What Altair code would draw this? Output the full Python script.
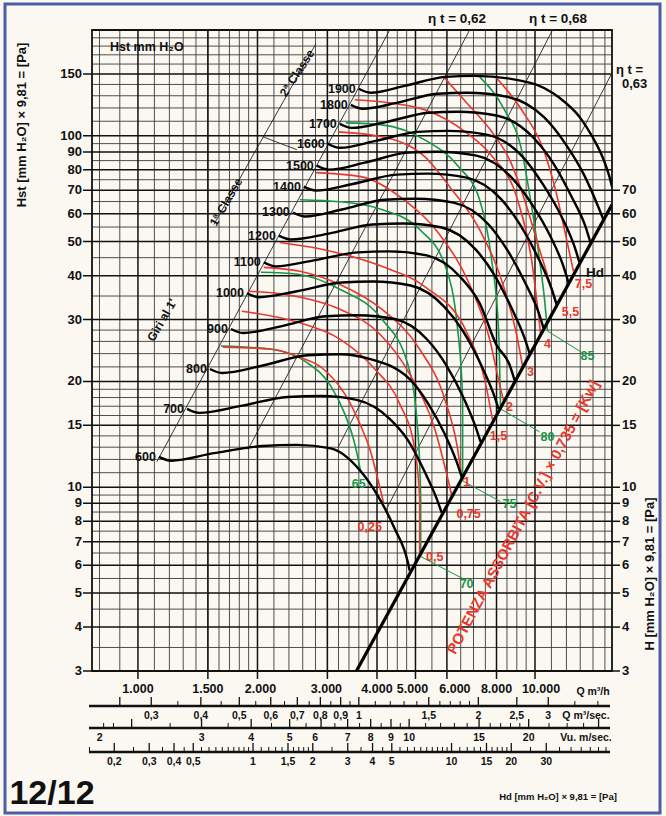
import altair as alt
import pandas as pd

# ---------------------------------------------------------------- scales
Q_MIN, Q_MAX = 766, 15630          # m3/h at the left / right frame
H_MIN, H_MAX = 3, 200              # mm H2O at the bottom / top frame
W, HT = 520, 641
M3H_PER_M3S = 3600.0
M3H_PER_VU = 482.0                 # Q [m3/h] for 1 m/s outlet velocity
VU2_PER_HD = 16.35                 # Hd = Vu^2 / 16.35

# ---------------------------------------------------------------- data
rpm = [600, 700, 800, 900, 1000, 1100, 1200, 1300, 1400, 1500, 1600, 1700, 1800, 1900]

q600 = [1129, 1211, 1553, 2063, 2513, 3060, 3640, 4017, 4433, 4779, 4835]
h600 = [12.2, 11.9, 12.5, 13.1, 13.2, 12.9, 11.1, 9.46, 7.62, 6.15, 5.79]
q700 = [1329, 1424, 1817, 2385, 2888, 3557, 4306, 4779, 5274, 5654, 5819]
h700 = [16.71, 16.28, 17.04, 18.07, 18.19, 17.72, 15.65, 13.64, 11.07, 9.28, 8.47]
q800 = [1518, 1628, 2052, 2678, 3243, 3769, 4835, 5366, 5921, 6347, 6535]
h800 = [21.7, 21.14, 22.16, 23.75, 23.9, 23.29, 20.3, 17.38, 14.19, 11.82, 10.71]
q900 = [1715, 1838, 2304, 2973, 3578, 4433, 5366, 5990, 6610, 7086, 7294]
h900 = [28.2, 27.47, 28.75, 30.66, 30.86, 30.1, 26.23, 22.16, 17.95, 14.85, 13.46]
q1000 = [1881, 2016, 2513, 3262, 3902, 4863, 5921, 6610, 7294, 7864, 8095]
h1000 = [35.65, 34.73, 36.12, 38.24, 38.49, 37.5, 32.55, 27.65, 22.45, 18.43, 16.71]
q1100 = [2075, 2225, 2772, 3578, 4281, 5335, 6496, 7252, 8002, 8628, 8882]
h1100 = [43.64, 42.51, 44.21, 46.58, 46.88, 45.67, 39.57, 33.41, 25.38, 22.31, 20.17]
q1200 = [2264, 2427, 3024, 3902, 4670, 5819, 7086, 7910, 8729, 9411, 9687]
h1200 = [52.02, 50.7, 52.7, 55.94, 56.31, 54.85, 47.5, 40.1, 32.34, 26.59, 24.06]
q1300 = [2455, 2632, 3262, 4183, 5006, 6238, 7640, 8528, 9466, 10205, 10505]
h1300 = [60.5, 58.94, 61.7, 65.8, 66.23, 64.52, 55.94, 47.19, 37.99, 31.48, 28.38]
q1400 = [2617, 2805, 3496, 4484, 5366, 6726, 8237, 9195, 10205, 11004, 11327]
h1400 = [71.64, 69.84, 73.06, 77.52, 78.03, 76.02, 65.8, 55.58, 44.78, 36.77, 33.2]
q1500 = [2821, 3024, 3725, 4779, 5686, 7127, 8779, 9800, 10940, 11795, 12142]
h1500 = [82.21, 80.1, 83.84, 89.53, 90.11, 87.79, 75.52, 64.1, 51.68, 42.51, 38.24]
q1600 = [3007, 3224, 3971, 5064, 6025, 7596, 9302, 10445, 11660, 12571, 12940]
h1600 = [94.88, 92.43, 96.76, 102.6, 103.3, 100.65, 87.21, 73.06, 58.94, 48.43, 43.64]
q1700 = [3224, 3456, 4232, 5397, 6384, 8048, 9914, 11132, 12355, 13398, 13791]
h1700 = [108.1, 105.3, 109.6, 116.3, 117.1, 114.0, 98.7, 83.29, 67.15, 55.21, 49.71]
q1800 = [3436, 3682, 4484, 5686, 6726, 8528, 10567, 11933, 13320, 14361, 14869]
h1800 = [122.5, 119.4, 124.1, 131.7, 132.6, 129.1, 112.6, 94.88, 77.02, 63.68, 57.8]
q1900 = [3598, 3857, 4697, 5956, 7045, 9743, 11525, 12940, 13951, 14783, 15395, 15630]
h1900 = [136.1, 132.6, 138.7, 147.1, 148.1, 141.5, 128.3, 113.3, 99.35, 87.21, 76.51, 71.64]

# absorbed power curves [kW] (red)
kw_names = ["7,5", "5,5", "4", "3", "2", "1,5", "1", "0,75", "0,5", "0,25"]
kw_q = [[8002, 9249, 10505, 11262, 11864, 12498],
        [5887, 6726, 7818, 8628, 9411, 10265, 11327],
        [3516, 4306, 5274, 6726, 7818, 9037, 9800, 10325],
        [3187, 4112, 5274, 6095, 7252, 8381, 9037, 9302],
        [2805, 3640, 4670, 5752, 6844, 7684, 8142, 8333],
        [2277, 2921, 4112, 5274, 6726, 7465, 7818],
        [2075, 2557, 3224, 4112, 5123, 5921, 6384, 6535],
        [1892, 2413, 3224, 4064, 4835, 5589, 6166],
        [1827, 2513, 3224, 3948, 4563, 4977, 5123, 5123],
        [1637, 2174, 2513, 2990, 3376, 3640, 3835, 4017, 4159]]
kw_h = [[146.1, 118.6, 91.3, 70.3, 54.1, 41.16],
        [147.1, 124.1, 101.98, 85.5, 65.8, 47.5, 33.2],
        [126.6, 124.1, 118.6, 101.98, 87.21, 65.8, 44.5, 27.47],
        [102.6, 99.35, 87.21, 71.64, 54.1, 36.6, 26.4, 22.16],
        [78.54, 76.51, 65.8, 52.36, 37.75, 26.4, 19.65, 17.61],
        [49.71, 47.5, 42.51, 37.25, 27.65, 20.3, 15.55],
        [42.23, 41.16, 37.75, 32.1, 24.7, 17.84, 12.86, 10.71],
        [36.12, 35.19, 32.1, 27.29, 21.0, 14.66, 9.52],
        [31.68, 29.52, 26.4, 21.7, 17.27, 12.86, 9.28, 6.52],
        [25.05, 24.7, 23.59, 21.28, 17.84, 14.95, 12.86, 10.57, 8.98]]
kw_lab_q = [13243, 12283, 10752, 9743, 8628, 8095, 6726, 6805, 5589, 3835]
kw_lab_h = [37.75, 31.48, 25.55, 21.28, 16.93, 14.0, 10.36, 8.41, 6.35, 7.72]

# efficiency curves [%] (green)
eff_names = ["85", "80", "75", "70", "65"]
eff_q = [[7252, 8381, 9249, 9743, 10265, 10567, 10752],
         [3338, 4112, 5274, 6421, 7252, 7774, 8095, 8189],
         [2557, 3224, 4112, 5123, 5921, 6384, 6572, 6572],
         [2040, 2528, 3224, 4112, 4779, 5064, 5153, 5153],
         [1618, 2174, 2648, 3060, 3318, 3516, 3640]]
eff_h = [[147.1, 118.6, 91.3, 65.8, 44.5, 34.3, 27.83],
         [108.8, 107.4, 97.4, 81.67, 65.8, 44.5, 28.2, 16.71],
         [65.8, 64.94, 61.7, 54.1, 43.07, 28.2, 17.84, 10.43],
         [40.89, 40.36, 36.6, 30.1, 22.45, 14.66, 9.28, 6.35],
         [25.22, 24.7, 22.75, 19.39, 16.17, 13.29, 11.07]]
eff_lead_q = [[10752, 13091], [8189, 10265], [6572, 8189], [5153, 6572]]
eff_lead_h = [[27.83, 24.22], [16.71, 14.38], [10.43, 9.10], [6.35, 5.50]]
eff_lab_q = [13553, 10752, 8628, 6726, 3598]
eff_lab_h = [23.59, 13.91, 8.98, 5.32, 10.23]

# dynamic-pressure line Hd
hd_line_q = [3550, 15630]
hd_line_h = [3.0, 63.7]

# thin guide lines (start locus, efficiency lines, class line, pointer)
guide_names = ["start", "eta062", "eta068", "eta063", "classe", "pointer"]
guide_q = [[1116, 4306], [1892, 6844], [3187, 11067], [4208, 15630], [1553, 2805], [2063, 2513]]
guide_h = [[11.82, 200], [12.78, 200], [12.94, 200], [8.58, 151], [55.9, 182.6], [99.35, 91.3]]

# grid
grid_q_minor = ([800, 900] + list(range(1100, 2000, 100)) + list(range(2200, 4000, 200))
                + [4250, 4500, 4750, 5500, 6500, 7000, 7500, 8500, 9000, 9500,
                   11000, 12000, 13000, 14000, 15000])
grid_q_major = [1000, 1500, 2000, 3000, 4000, 5000, 6000, 8000, 10000]
grid_h_minor = ([3.5, 4.5, 5.5, 6.5, 7.5, 8.5, 9.5, 11, 12, 13, 14, 16, 17, 18, 19,
                 22, 24, 26, 28, 35, 45, 55, 65, 75, 85, 95, 110, 120, 130, 140,
                 160, 170, 180, 190])
grid_h_major = [3, 4, 5, 6, 7, 8, 9, 10, 15, 20, 30, 40, 50, 60, 70, 80, 90, 100, 150]

left_labels = [str(v) for v in grid_h_major]
right_vals = [3, 4, 5, 6, 7, 8, 9, 10, 15, 20, 30, 40, 50, 60, 70]
q_labels_vals = [1000, 1500, 2000, 3000, 4000, 5000, 6000, 8000, 10000]
q_labels_txt = ["1.000", "1.500", "2.000", "3.000", "4.000", "5.000", "6.000", "8.000", "10.000"]
q_label_nudge = {"2.000": 3, "3.000": -1, "5.000": -3, "6.000": 8, "10.000": 6}

# bottom scales
qs_major = [0.25, 0.3, 0.4, 0.5, 0.6, 0.7, 0.8, 0.9, 1.0, 1.5, 2.0, 2.5, 3.0]
qs_minor = [0.35, 0.45, 0.55, 0.65, 0.75, 0.85, 0.95, 1.1, 1.2, 1.3, 1.4, 1.6, 1.7, 1.8, 1.9, 3.5, 4.0]
qs_lab_v = [0.3, 0.4, 0.5, 0.6, 0.7, 0.8, 0.9, 1.0, 1.5, 2.0, 2.5, 3.0]
qs_lab_t = ["0,3", "0,4", "0,5", "0,6", "0,7", "0,8", "0,9", "1", "1,5", "2", "2,5", "3"]

vu_major = [2, 3, 4, 5, 6, 7, 8, 9, 10, 15, 20, 30]
vu_minor = [1.7, 1.8, 2.5, 3.5, 4.5, 5.5, 6.5, 7.5, 8.5, 9.5, 11, 12, 13, 14, 16, 17, 18, 19,
            22.5, 25, 27.5]
vu_lab_v = [2, 3, 4, 5, 6, 7, 8, 9, 10, 15, 20]
vu_lab_t = ["2", "3", "4", "5", "6", "7", "8", "9", "10", "15", "20"]
vu_label_nudge = {"2": -32, "6": -6}

hd_major = [0.2, 0.3, 0.4, 0.5, 1, 1.5, 2, 3, 4, 5, 10, 15, 20, 30]
hd_minor = ([0.15, 0.25, 0.35, 0.45, 0.55, 0.6, 0.65, 0.7, 0.75, 0.8, 0.85, 0.9, 0.95,
             1.1, 1.2, 1.3, 1.4, 1.6, 1.7, 1.8, 1.9, 2.5, 3.5, 4.5, 5.5, 6, 6.5, 7, 7.5, 8,
             8.5, 9, 9.5, 11, 12, 13, 14, 16, 17, 18, 19, 25, 35, 40, 45, 50, 55, 60])
hd_lab_v = hd_major
hd_lab_t = ["0,2", "0,3", "0,4", "0,5", "1", "1,5", "2", "3", "4", "5", "10", "15", "20", "30"]

# ---------------------------------------------------------------- helpers
FONT = "Liberation Sans, Arial, sans-serif"
RED, GREEN = "#e8372c", "#169647"
xq = alt.Scale(type="log", domain=[Q_MIN, Q_MAX], nice=False)
yh = alt.Scale(type="log", domain=[H_MIN, H_MAX], nice=False)
xqs = alt.Scale(type="log", domain=[Q_MIN / M3H_PER_M3S, Q_MAX / M3H_PER_M3S], nice=False)
xvu = alt.Scale(type="log", domain=[Q_MIN / M3H_PER_VU, Q_MAX / M3H_PER_VU], nice=False)
xhd = alt.Scale(type="log", domain=[(Q_MIN / M3H_PER_VU) ** 2 / VU2_PER_HD,
                                    (Q_MAX / M3H_PER_VU) ** 2 / VU2_PER_HD], nice=False)


def X(field="q", scale=xq):
    return alt.X(f"{field}:Q", scale=scale, axis=None)


def Y(field="h"):
    return alt.Y(f"{field}:Q", scale=yh, axis=None)


def long_df(names, qs, hs):
    return pd.DataFrame([{"g": n, "q": q, "h": h, "i": i}
                         for n, ql, hl in zip(names, qs, hs)
                         for i, (q, h) in enumerate(zip(ql, hl))])


one = pd.DataFrame({"k": [0]})
layers = []

# outer blue border
layers.append(alt.Chart(one).mark_rect(fill=None, stroke="#4c5da6", strokeWidth=3).encode(
    x=alt.value(-87), x2=alt.value(568), y=alt.value(-26), y2=alt.value(783)))

# grid
layers.append(alt.Chart(pd.DataFrame({"q": grid_q_minor})).mark_rule(
    color="#3b3b3b", strokeWidth=0.9).encode(x=X(), y=alt.value(0), y2=alt.value(HT)))
layers.append(alt.Chart(pd.DataFrame({"h": grid_h_minor})).mark_rule(
    color="#3b3b3b", strokeWidth=0.9).encode(y=Y(), x=alt.value(0), x2=alt.value(W)))
layers.append(alt.Chart(pd.DataFrame({"q": grid_q_major})).mark_rule(
    color="#111", strokeWidth=1.5).encode(x=X(), y=alt.value(0), y2=alt.value(HT + 8)))
layers.append(alt.Chart(pd.DataFrame({"h": grid_h_major})).mark_rule(
    color="#111", strokeWidth=1.5).encode(y=Y(), x=alt.value(-9), x2=alt.value(W)))
layers.append(alt.Chart(pd.DataFrame({"h": right_vals})).mark_rule(
    color="#111", strokeWidth=1.5).encode(y=Y(), x=alt.value(W), x2=alt.value(W + 8)))
# frame
layers.append(alt.Chart(one).mark_rect(fill=None, stroke="#111", strokeWidth=1.8).encode(
    x=alt.value(0), x2=alt.value(W), y=alt.value(0), y2=alt.value(HT)))

# axis labels
layers.append(alt.Chart(pd.DataFrame({"h": grid_h_major, "t": left_labels})).mark_text(
    align="right", baseline="middle", font=FONT, fontSize=13, fontWeight="bold", color="#111").encode(
    y=Y(), x=alt.value(-10), text="t:N"))
layers.append(alt.Chart(pd.DataFrame({"h": right_vals, "t": [str(v) for v in right_vals]})).mark_text(
    align="left", baseline="middle", font=FONT, fontSize=13, fontWeight="bold", color="#111").encode(
    y=Y(), x=alt.value(W + 10), text="t:N"))
for v, t in zip(q_labels_vals, q_labels_txt):
    layers.append(alt.Chart(pd.DataFrame({"q": [v], "t": [t]})).mark_text(
        align="center", baseline="middle", font=FONT, fontSize=12.5, fontWeight="bold", color="#111",
        dx=q_label_nudge.get(t, 0)).encode(x=X(), y=alt.value(HT + 18), text="t:N"))

# guide lines
layers.append(alt.Chart(long_df(guide_names, guide_q, guide_h)).mark_line(
    color="#222", strokeWidth=0.9, clip=True).encode(x=X(), y=Y(), detail="g:N", order="i:Q"))

# efficiency (green) and power (red) curves
layers.append(alt.Chart(long_df(eff_names, eff_q, eff_h)).mark_line(
    color=GREEN, strokeWidth=1.6, interpolate="monotone", clip=True).encode(
    x=X(), y=Y(), detail="g:N", order="i:Q"))
layers.append(alt.Chart(long_df(["85", "80", "75", "70"], eff_lead_q, eff_lead_h)).mark_line(
    color=GREEN, strokeWidth=1.0).encode(x=X(), y=Y(), detail="g:N", order="i:Q"))
layers.append(alt.Chart(long_df(kw_names, kw_q, kw_h)).mark_line(
    color=RED, strokeWidth=1.6, interpolate="monotone", clip=True).encode(
    x=X(), y=Y(), detail="g:N", order="i:Q"))

# fan curves
curves = {600: (q600, h600), 700: (q700, h700), 800: (q800, h800), 900: (q900, h900),
          1000: (q1000, h1000), 1100: (q1100, h1100), 1200: (q1200, h1200), 1300: (q1300, h1300),
          1400: (q1400, h1400), 1500: (q1500, h1500), 1600: (q1600, h1600), 1700: (q1700, h1700),
          1800: (q1800, h1800), 1900: (q1900, h1900)}
cdf = pd.DataFrame([{"n": n, "q": q, "h": h, "i": i}
                    for n in rpm for i, (q, h) in enumerate(zip(*curves[n]))])
layers.append(alt.Chart(cdf).mark_line(color="#000", strokeWidth=2.4, interpolate="monotone",
                                       clip=True).encode(x=X(), y=Y(), detail="n:N", order="i:Q"))
lab = pd.DataFrame({"q": [curves[n][0][0] for n in rpm], "h": [curves[n][1][0] for n in rpm],
                    "t": [str(n) for n in rpm]})
layers.append(alt.Chart(lab).mark_text(align="right", baseline="middle", dx=-3, font=FONT,
                                       fontSize=12.5, fontWeight="bold", color="#111").encode(
    x=X(), y=Y(), text="t:N"))

# Hd line
layers.append(alt.Chart(pd.DataFrame({"q": hd_line_q, "h": hd_line_h})).mark_line(
    color="#000", strokeWidth=3.2, clip=True).encode(x=X(), y=Y()))

# curve labels
layers.append(alt.Chart(pd.DataFrame({"q": kw_lab_q, "h": kw_lab_h, "t": kw_names})).mark_text(
    align="center", baseline="middle", font=FONT, fontSize=12.5, fontWeight="bold", color=RED).encode(
    x=X(), y=Y(), text="t:N"))
layers.append(alt.Chart(pd.DataFrame({"q": eff_lab_q, "h": eff_lab_h, "t": eff_names})).mark_text(
    align="center", baseline="middle", font=FONT, fontSize=12.5, fontWeight="bold", color=GREEN).encode(
    x=X(), y=Y(), text="t:N"))


# texts inside / around plot
def txt(s, x, y, size=13, color="#111", angle=0, align="center", weight="bold"):
    kw = dict(align=align, baseline="middle", font=FONT, fontSize=size, fontWeight=weight,
              color=color, text=s)
    if angle:
        kw["angle"] = angle
    return alt.Chart(one).mark_text(**kw).encode(x=alt.value(x), y=alt.value(y))


layers += [
    txt("Hst mm H₂O", 18, 17, 12.5, align="left"),
    txt("η t = 0,62", 365, -11, 13.5),
    txt("η t = 0,68", 466, -11, 13.5),
    txt("η t =", 524, 40, 13, align="left"),
    txt("0,63", 530, 54, 13, align="left"),
    txt("Hd", 503, 243, 13.5),
    txt("Giri al 1'", 70, 290, 12, angle=300),
    txt("1ª Classe", 134, 172, 12, angle=300),
    txt("2ª Classe", 205, 43, 12, angle=303),
    txt("POTENZA ASSORBITA [C.V.] × 0,735 = [Kw]", 431, 487, 15, color=RED, angle=298),
    txt("Hst [mm H₂O] × 9,81 = [Pa]", -70, 95, 13, angle=270),
    txt("H [mm H₂O] × 9,81 = [Pa]", 558, 544, 13, angle=270),
    txt("Q m³/h", 501, HT + 21, 10.5, align="center"),
    txt("Q m³/sec.", 494, 686, 10.5, align="center"),
    txt("Vu. m/sec.", 494, 708, 10.5, align="center"),
    txt("12/12", -40, 764, 34, align="center"),
    txt("Hd [mm H₂O] × 9,81 = [Pa]", 466, 767, 9.5, align="center"),
]

# bottom scale base lines
for yv in [676, 698, 722]:
    layers.append(alt.Chart(one).mark_rule(color="#111", strokeWidth=2.6).encode(
        x=alt.value(-3), x2=alt.value(518), y=alt.value(yv)))


def scale_layers(major, minor, lv, lt, scale, ybase, ylab, nudge=None):
    nudge = nudge or {}
    out = []
    out.append(alt.Chart(pd.DataFrame({"v": major})).mark_rule(color="#111", strokeWidth=1.3).encode(
        x=X("v", scale), y=alt.value(ybase - 9), y2=alt.value(ybase)))
    out.append(alt.Chart(pd.DataFrame({"v": minor})).mark_rule(color="#111", strokeWidth=1.0).encode(
        x=X("v", scale), y=alt.value(ybase - 5), y2=alt.value(ybase)))
    for v, t in zip(lv, lt):
        out.append(alt.Chart(pd.DataFrame({"v": [v], "t": [t]})).mark_text(
            align="center", baseline="middle", font=FONT, fontSize=10.5, fontWeight="bold",
            color="#111", dx=nudge.get(t, 0)).encode(x=X("v", scale), y=alt.value(ylab), text="t:N"))
    return out


layers += scale_layers(qs_major, qs_minor, qs_lab_v, qs_lab_t, xqs, 676, 686)
layers += scale_layers(vu_major, vu_minor, vu_lab_v, vu_lab_t, xvu, 698, 708, vu_label_nudge)
layers += scale_layers(hd_major, hd_minor, hd_lab_v, hd_lab_t, xhd, 722, 732)

chart = alt.layer(*layers).resolve_scale(x="independent").properties(
    width=W, height=HT, background="#faf8f1",
    padding={"left": 92, "top": 30, "right": 54, "bottom": 145},
    autosize=alt.AutoSizeParams(type="none"),
).configure_view(strokeWidth=0)

chart.save("out.html", embed_options={"renderer": "svg", "actions": False})
